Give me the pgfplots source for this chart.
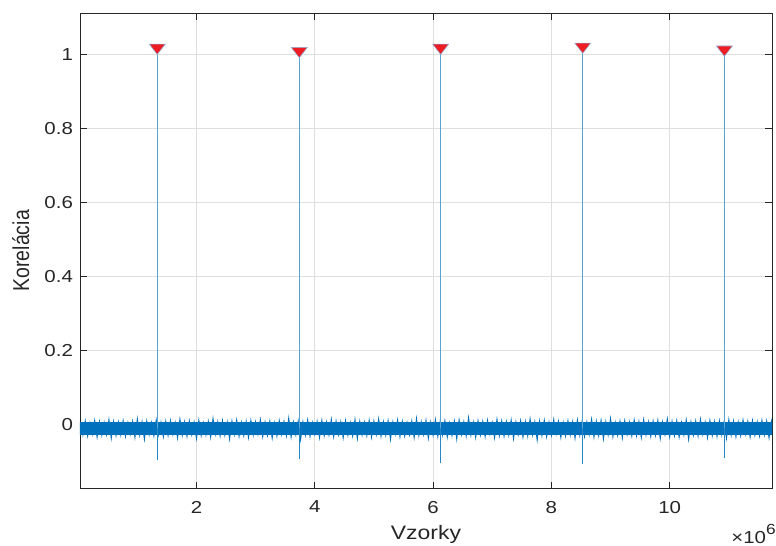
\documentclass[border=0pt]{standalone}
\usepackage{graphicx}
\usepackage{pgfplots}
\pgfplotsset{compat=1.18}
\usepackage{fontspec}
\setmainfont{Liberation Sans}
\definecolor{matblue}{HTML}{0072BD}
\definecolor{axgray}{HTML}{262626}
\definecolor{mred}{HTML}{EE1D23}
\definecolor{medge}{HTML}{8EB4DC}
\newcommand{\sx}[1]{\scalebox{1.18}[1]{#1}}
\pgfdeclareplotmark{vtri}{%
  \pgfpathmoveto{\pgfqpoint{0pt}{0pt}}%
  \pgfpathlineto{\pgfqpoint{6pt}{7.7pt}}%
  \pgfpathlineto{\pgfqpoint{-6pt}{7.7pt}}%
  \pgfpathclose\pgfusepathqfillstroke}
\begin{document}
\begin{tikzpicture}
\begin{axis}[name=ax, scale only axis, width=519pt, height=356.6pt,
  xmin=0.031, xmax=11.73, ymin=-0.1735, ymax=1.112,
  xtick={2,4,6,8,10}, xticklabels={\sx{2},\sx{4},\sx{6},\sx{8},\sx{10}},
  ytick={0,0.2,0.4,0.6,0.8,1}, yticklabels={\sx{0},\sx{0.2},\sx{0.4},\sx{0.6},\sx{0.8},\sx{1}},
  tick align=inside, xtick pos=both, ytick pos=both,
  major tick length=5.2pt,
  tick style={axgray, line width=0.5pt},
  axis line style={axgray, line width=0.6pt},
  grid=major, grid style={gray!25, line width=0.6pt},
  tick label style={font=\fontsize{13}{15}\selectfont, text=axgray},
  yticklabel style={anchor=east, xshift=-1.8pt},
  xticklabel style={anchor=north, yshift=-5.8pt},
  xlabel={\sx{Vzorky}}, ylabel={\scalebox{1}[1.18]{Korelácia}},
  xlabel style={at={(axis description cs:0.5,-0.1082)}, anchor=base, font=\fontsize{14.6}{17}\selectfont, text=axgray},
  ylabel style={at={(axis description cs:-0.0857,0.5)}, anchor=center, font=\fontsize{14.6}{17}\selectfont, text=axgray},
  clip=true,
]
% dense core of the noise band
\addplot[fill=matblue, draw=none] coordinates {(0,-0.029) (11.8,-0.029) (11.8,0.006) (0,0.006)} -- cycle;
% noise (zig-zag envelope)
\addplot[matblue, line width=0.7pt] coordinates {
(0.04,.006)(0.08,-.029)(0.12,.009)(0.16,-.032)(0.20,.004)(0.24,-.027)(0.28,.011)(0.32,-.035)(0.36,.007)(0.40,-.030)(0.44,.005)(0.48,-.028)(0.52,.013)(0.56,-.038)(0.60,.008)(0.64,-.031)(0.68,.006)(0.72,-.029)(0.76,.010)(0.80,-.033)
(0.84,.004)(0.88,-.027)(0.92,.008)(0.96,-.036)(1.00,.015)(1.04,-.030)(1.08,.007)(1.12,-.041)(1.16,.009)(1.20,-.028)(1.24,.005)(1.28,-.032)(1.32,.012)(1.36,-.029)(1.40,.006)(1.44,-.034)(1.48,.008)(1.52,-.031)(1.56,.010)(1.60,-.027)
(1.64,.005)(1.68,-.037)(1.72,.014)(1.76,-.030)(1.80,.007)(1.84,-.033)(1.88,.009)(1.92,-.028)(1.96,.006)(2.00,-.039)(2.04,.011)(2.08,-.031)(2.12,.004)(2.16,-.029)(2.20,.008)(2.24,-.035)(2.28,.016)(2.32,-.027)(2.36,.007)(2.40,-.032)
(2.44,.010)(2.48,-.030)(2.52,.006)(2.56,-.040)(2.60,.009)(2.64,-.028)(2.68,.012)(2.72,-.033)(2.76,.005)(2.80,-.031)(2.84,.008)(2.88,-.036)(2.92,.011)(2.96,-.029)(3.00,.007)(3.04,-.027)(3.08,.013)(3.12,-.034)(3.16,.006)(3.20,-.030)
(3.24,.009)(3.28,-.038)(3.32,.004)(3.36,-.032)(3.40,.010)(3.44,-.028)(3.48,.008)(3.52,-.031)(3.56,.017)(3.60,-.035)(3.64,.006)(3.68,-.029)(3.72,.009)(3.76,-.042)(3.80,.007)(3.84,-.030)(3.88,.012)(3.92,-.033)(3.96,.005)(4.00,-.027)
(4.04,.008)(4.08,-.036)(4.12,.011)(4.16,-.031)(4.20,.006)(4.24,-.029)(4.28,.014)(4.32,-.034)(4.36,.009)(4.40,-.028)(4.44,.007)(4.48,-.037)(4.52,.010)(4.56,-.030)(4.60,.005)(4.64,-.032)(4.68,.013)(4.72,-.039)(4.76,.008)(4.80,-.029)
(4.84,.006)(4.88,-.031)(4.92,.011)(4.96,-.035)(5.00,.009)(5.04,-.028)(5.08,.015)(5.12,-.033)(5.16,.007)(5.20,-.030)(5.24,.010)(5.28,-.041)(5.32,.006)(5.36,-.027)(5.40,.012)(5.44,-.034)(5.48,.008)(5.52,-.032)(5.56,.005)(5.60,-.029)
(5.64,.009)(5.68,-.036)(5.72,.016)(5.76,-.031)(5.80,.007)(5.84,-.028)(5.88,.011)(5.92,-.038)(5.96,.006)(6.00,-.030)(6.04,.013)(6.08,-.033)(6.12,.008)(6.16,-.029)(6.20,.010)(6.24,-.035)(6.28,.004)(6.32,-.031)(6.36,.009)(6.40,-.040)
(6.44,.012)(6.48,-.028)(6.52,.007)(6.56,-.032)(6.60,.018)(6.64,-.030)(6.68,.006)(6.72,-.036)(6.76,.010)(6.80,-.029)(6.84,.008)(6.88,-.034)(6.92,.011)(6.96,-.027)(7.00,.005)(7.04,-.037)(7.08,.014)(7.12,-.031)(7.16,.009)(7.20,-.033)
(7.24,.007)(7.28,-.030)(7.32,.012)(7.36,-.039)(7.40,.006)(7.44,-.028)(7.48,.010)(7.52,-.035)(7.56,.008)(7.60,-.032)(7.64,.015)(7.68,-.029)(7.72,.007)(7.76,-.043)(7.80,.009)(7.84,-.031)(7.88,.011)(7.92,-.034)(7.96,.006)(8.00,-.030)
(8.04,.013)(8.08,-.027)(8.12,.008)(8.16,-.036)(8.20,.005)(8.24,-.032)(8.28,.010)(8.32,-.029)(8.36,.007)(8.40,-.038)(8.44,.012)(8.48,-.030)(8.52,.009)(8.56,-.033)(8.60,.006)(8.64,-.028)(8.68,.014)(8.72,-.035)(8.76,.008)(8.80,-.031)
(8.84,.011)(8.88,-.040)(8.92,.007)(8.96,-.029)(9.00,.016)(9.04,-.034)(9.08,.005)(9.12,-.030)(9.16,.009)(9.20,-.037)(9.24,.010)(9.28,-.028)(9.32,.006)(9.36,-.032)(9.40,.012)(9.44,-.031)(9.48,.008)(9.52,-.036)(9.56,.013)(9.60,-.029)
(9.64,.007)(9.68,-.033)(9.72,.009)(9.76,-.030)(9.80,.011)(9.84,-.039)(9.88,.006)(9.92,-.028)(9.96,.015)(10.00,-.034)(10.04,.008)(10.08,-.031)(10.12,.010)(10.16,-.035)(10.20,.005)(10.24,-.029)(10.28,.012)(10.32,-.041)(10.36,.007)(10.40,-.030)
(10.44,.009)(10.48,-.032)(10.52,.014)(10.56,-.028)(10.60,.006)(10.64,-.036)(10.68,.011)(10.72,-.031)(10.76,.008)(10.80,-.033)(10.84,.010)(10.88,-.029)(10.92,.007)(10.96,-.038)(11.00,.013)(11.04,-.030)(11.08,.009)(11.12,-.034)(11.16,.006)(11.20,-.031)
(11.24,.012)(11.28,-.027)(11.32,.008)(11.36,-.035)(11.40,.010)(11.44,-.030)(11.48,.007)(11.52,-.032)(11.56,.011)(11.60,-.029)(11.64,.009)(11.68,-.037)(11.72,.008)(11.76,-.030)
};
% thick parts of the spikes (dip and small bump)
\addplot[matblue!85, line width=1.1pt, unbounded coords=jump] coordinates {
(1.337,-0.096)(1.337,0.043)(1.337,nan)
(3.738,-0.094)(3.738,0.057)(3.738,nan)
(6.128,-0.104)(6.128,0.045)(6.128,nan)
(8.530,-0.107)(8.530,0.055)(8.530,nan)
(10.925,-0.092)(10.925,0.068)
};
% correlation peaks
\addplot[matblue!65, line width=0.55pt, unbounded coords=jump] coordinates {
(1.337,-0.01)(1.337,1.000)(1.337,nan)
(3.738,-0.01)(3.738,0.991)(3.738,nan)
(6.128,-0.01)(6.128,1.000)(6.128,nan)
(8.530,-0.01)(8.530,1.003)(8.530,nan)
(10.925,-0.01)(10.925,0.995)
};
% peak markers
\addplot[only marks, mark=vtri, mark options={fill=mred, draw=medge, line width=0.4pt}] coordinates {
(1.337,1.000)(3.738,0.991)(6.128,1.000)(8.530,1.003)(10.925,0.995)};
\end{axis}
\node[anchor=base east, xshift=3pt, yshift=-40.9pt, font=\fontsize{13}{15}\selectfont, text=axgray, inner sep=0pt] at (ax.south east) {\sx{×10\raisebox{0.5em}{\fontsize{11}{11}\selectfont 6}}};
\pgfresetboundingbox
\path[use as bounding box] ([shift={(-60pt,-42.4pt)}]ax.south west) rectangle ([shift={(3pt,9.75pt)}]ax.north east);
\end{tikzpicture}
\end{document}
